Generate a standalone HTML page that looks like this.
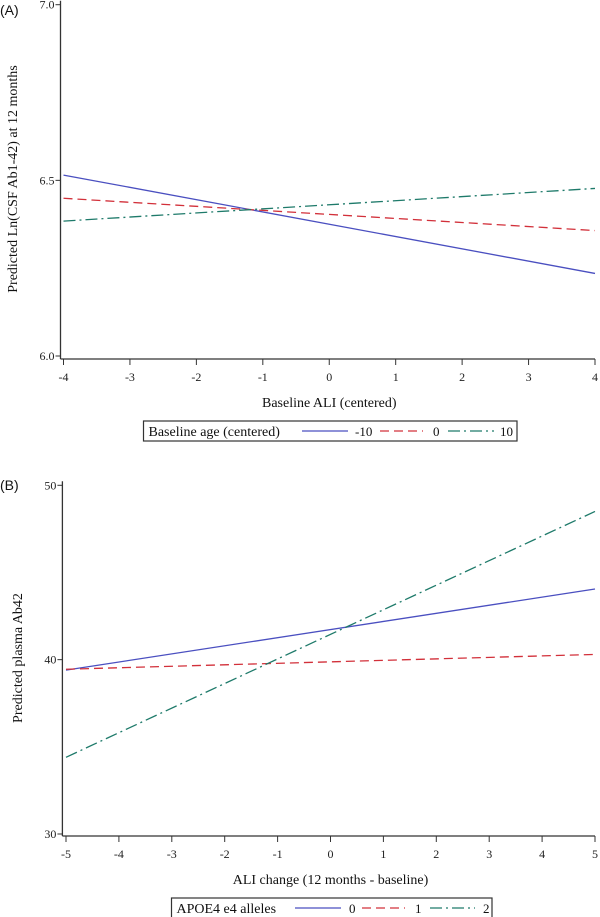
<!DOCTYPE html>
<html><head><meta charset="utf-8"><style>
html,body{margin:0;padding:0;background:#fff;width:600px;height:917px;overflow:hidden}
svg{display:block;font-family:"Liberation Serif",serif}
</style></head><body>
<svg id="c" width="600" height="917"></svg>
<script>
const xTicksA=[-4,-3,-2,-1,0,1,2,3,4];
const yTicksA=[6.0,6.5,7.0];
const yTickLabelsA=["6.0","6.5","7.0"];
const seriesNamesA=["-10","0","10"];
const xEndsA=[-4,4];
const valsA_m10=[6.515,6.235];
const valsA_0=[6.449,6.357];
const valsA_10=[6.384,6.477];

const xTicksB=[-5,-4,-3,-2,-1,0,1,2,3,4,5];
const yTicksB=[30,40,50];
const yTickLabelsB=["30","40","50"];
const seriesNamesB=["0","1","2"];
const xEndsB=[-5,5];
const valsB_0=[39.4,44.05];
const valsB_1=[39.45,40.3];
const valsB_2=[34.4,48.5];

const NS="http://www.w3.org/2000/svg";
const svg=document.getElementById('c');
function el(tag,attrs,parent){const e=document.createElementNS(NS,tag);for(const k in attrs)e.setAttribute(k,attrs[k]);(parent||svg).appendChild(e);return e;}
const styles=[{stroke:"#4a4fc0",dash:""},{stroke:"#d2303a",dash:"9,5"},{stroke:"#1e7a6a",dash:"12,4,2,4"}];

function panel(cfg){
  const g=el('g',{});
  
  
  const sx=v=>cfg.x0+(v-cfg.xmin)/(cfg.xmax-cfg.xmin)*(cfg.x1-cfg.x0);
  const sy=v=>cfg.y0+(v-cfg.ymin)/(cfg.ymax-cfg.ymin)*(cfg.y1-cfg.y0);
  const lab=el('text',{x:0,y:cfg.labelY,'font-family':'Liberation Sans, sans-serif','font-size':14,fill:'#111'},g);
  lab.textContent=cfg.label;
  
  
  const ya=el('line',{x1:cfg.axX,x2:cfg.axX,y1:sy(cfg.ymax)-4,y2:cfg.axY,stroke:'#333','stroke-width':1.3},g);
  
  
  const xa=el('line',{x1:cfg.axX,x2:sx(cfg.xmax),y1:cfg.axY,y2:cfg.axY,stroke:'#333','stroke-width':1.3},g);
  
  
  cfg.yTicks.forEach((v,i)=>{
    el('line',{x1:cfg.axX-5,x2:cfg.axX,y1:sy(v),y2:sy(v),stroke:'#333'},g);
    const t=el('text',{x:cfg.axX-6,y:sy(v)+4,'text-anchor':'end','font-size':12,fill:'#222'},g);
    t.textContent=cfg.yLabels[i];
    
    
  });
  cfg.xTicks.forEach(v=>{
    el('line',{x1:sx(v),x2:sx(v),y1:cfg.axY,y2:cfg.axY+6,stroke:'#333'},g);
    const t=el('text',{x:sx(v),y:cfg.axY+22,'text-anchor':'middle','font-size':12,fill:'#222'},g);
    t.textContent=String(v);
    
    
  });
  const xt=el('text',{x:(sx(cfg.xmin)+sx(cfg.xmax))/2,y:cfg.axY+48,'text-anchor':'middle','font-size':14,fill:'#111'},g);
  xt.textContent=cfg.xTitle;
  
  
  const yt=el('text',{x:0,y:0,'text-anchor':'middle','font-size':14,fill:'#111',transform:`translate(${cfg.ytX},${cfg.ytY}) rotate(-90)`},g);
  yt.textContent=cfg.yTitle;
  
  
  cfg.series.forEach((vals,i)=>{
    const l=el('line',{x1:sx(cfg.xEnds[0]),y1:sy(vals[0]),x2:sx(cfg.xEnds[1]),y2:sy(vals[1]),stroke:styles[i].stroke,'stroke-width':1.3,'stroke-dasharray':styles[i].dash},g);
    
    
  });
  const lg=el('g',{},g);
  
  
  el('rect',{x:cfg.lg.x,y:cfg.lg.y,width:cfg.lg.w,height:20,fill:'#fff',stroke:'#333','stroke-width':1.2},lg);
  const lt=el('text',{x:cfg.lg.x+5,y:cfg.lg.y+15,'font-size':14,fill:'#111'},lg);
  lt.textContent=cfg.lg.title;
  cfg.lg.items.forEach((it,i)=>{
    el('line',{x1:it[0],x2:it[1],y1:cfg.lg.y+10,y2:cfg.lg.y+10,stroke:styles[i].stroke,'stroke-width':1.3,'stroke-dasharray':styles[i].dash},lg);
    const t=el('text',{x:it[2],y:cfg.lg.y+15,'font-size':13,fill:'#111'},lg);
    t.textContent=cfg.names[i];
    
    
  });
}
panel({name:'panel-a',label:'(A)',labelY:15,xmin:-4,xmax:4,ymin:6.0,ymax:7.0,x0:63.5,x1:595,y0:356,y1:4.7,axX:60.5,axY:359,
  xTicks:xTicksA,yTicks:yTicksA,yLabels:yTickLabelsA,xTitle:'Baseline ALI (centered)',yTitle:'Predicted Ln(CSF Ab1-42) at 12 months',ytX:17,ytY:179,
  series:[valsA_m10,valsA_0,valsA_10],xEnds:xEndsA,names:seriesNamesA,
  lg:{x:143.5,y:421,w:373.5,title:'Baseline age (centered)',items:[[302,348,355],[380,423,433],[448,494,500]]}});
panel({name:'panel-b',label:'(B)',labelY:490,xmin:-5,xmax:5,ymin:30,ymax:50,x0:66,x1:595,y0:834,y1:485.3,axX:62.4,axY:836,
  xTicks:xTicksB,yTicks:yTicksB,yLabels:yTickLabelsB,xTitle:'ALI change (12 months - baseline)',yTitle:'Predicted plasma Ab42',ytX:22,ytY:658,
  series:[valsB_0,valsB_1,valsB_2],xEnds:xEndsB,names:seriesNamesB,
  lg:{x:171.5,y:898,w:320.5,title:'APOE4 e4 alleles',items:[[295,341,349],[362,405,415],[430,475,483]]}});
</script>
</body></html>
